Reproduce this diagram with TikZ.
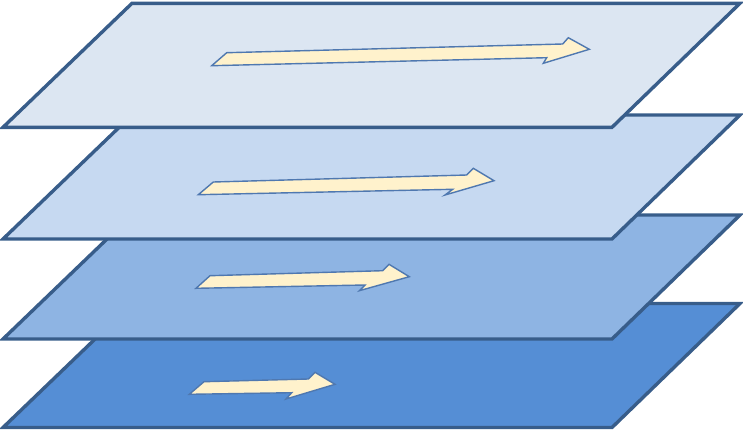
\documentclass[tikz,border=0pt]{standalone}
\definecolor{edgeblue}{RGB}{56,93,138}
\definecolor{planeA}{RGB}{220,230,242}
\definecolor{planeB}{RGB}{198,217,241}
\definecolor{planeC}{RGB}{142,180,227}
\definecolor{planeD}{RGB}{85,142,213}
\definecolor{arrowfill}{RGB}{255,242,204}
\definecolor{arrowedge}{RGB}{79,120,176}
\tikzset{
  plane/.style={draw=edgeblue, line width=3.4pt, line join=miter},
  flatarrow/.style={draw=arrowedge, fill=arrowfill, line width=1.4pt, line join=miter}
}
\newcommand{\myplane}[2]{%
  \filldraw[plane, fill=#2] (3,#1) -- (612,#1) -- (740,#1-124) -- (132,#1-124) -- cycle;}
\begin{document}
\begin{tikzpicture}[x=1pt,y=-1pt]
\useasboundingbox (0,0) rectangle (743,431);
% planes, bottom to top
\myplane{427.5}{planeD}
\filldraw[flatarrow] (189.3,394.3) -- (204,381.7) -- (308.3,379) -- (315,372.3) -- (335,384.3) -- (286,399) -- (291.7,392.7) -- cycle;
\myplane{339}{planeC}
\filldraw[flatarrow] (196,288.3) -- (210,275.7) -- (382.7,270.7) -- (389,264.3) -- (409.3,276.7) -- (359.3,290.7) -- (365,285) -- cycle;
\myplane{239}{planeB}
\filldraw[flatarrow] (198.3,194.7) -- (213.3,182) -- (466.7,175) -- (473.3,168.3) -- (494,180.7) -- (445,195) -- (452.7,189.3) -- cycle;
\myplane{127.3}{planeA}
\filldraw[flatarrow] (211.7,65.7) -- (226.7,52.7) -- (562.7,44) -- (568.3,37.7) -- (589.3,49.3) -- (543.3,63.3) -- (546.7,57.7) -- cycle;
\end{tikzpicture}
\end{document}
